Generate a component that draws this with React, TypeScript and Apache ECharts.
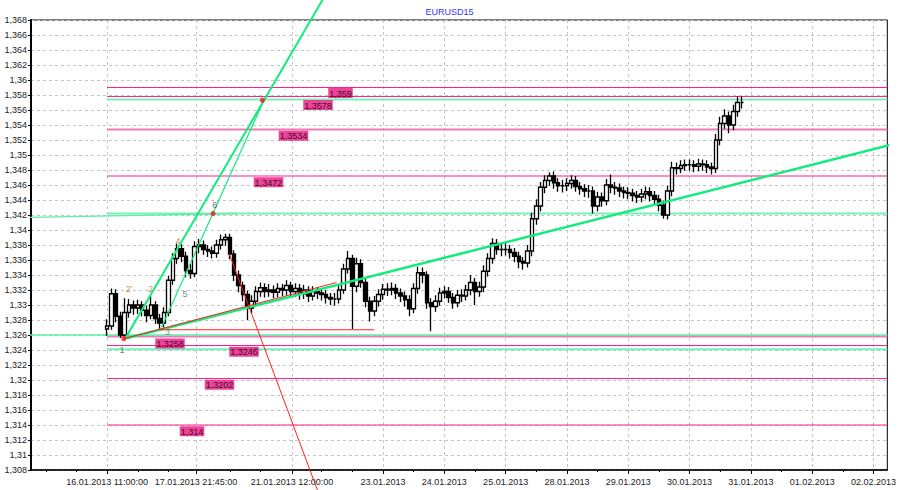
import React, { useEffect, useRef } from 'react';
import * as echarts from 'echarts';

// ---------- data (prices in pips: 1.3270 -> 13270), one candle per bar index ----------
const FIRST_OPEN = 13268;
const closes = [
  13272, 13315, 13285, 13260, 13290, 13300, 13296, 13300, 13293, 13286,
  13300, 13282, 13276, 13290, 13333, 13362, 13375, 13365, 13346, 13342,
  13378, 13380, 13374, 13372, 13369, 13380, 13387, 13390, 13368, 13340,
  13326, 13314, 13296, 13305, 13318, 13323, 13318, 13320, 13317, 13322,
  13320, 13326, 13318, 13322, 13315, 13320, 13312, 13318, 13316, 13314,
  13310, 13308, 13308, 13320, 13348, 13362, 13325, 13355, 13330, 13305,
  13292, 13305, 13314, 13321, 13320, 13322, 13316, 13312, 13307, 13295,
  13322, 13343, 13340, 13303, 13298, 13305, 13316, 13318, 13310, 13303,
  13313, 13312, 13320, 13330, 13318, 13324, 13345, 13362, 13382, 13374,
  13374, 13374, 13370, 13365, 13358, 13356, 13372, 13415, 13432, 13457,
  13466, 13472, 13463, 13459, 13459, 13462, 13466, 13458, 13455, 13452,
  13452, 13432, 13444, 13439, 13460, 13457, 13456, 13452, 13450, 13449,
  13446, 13444, 13448, 13451, 13446, 13441, 13433, 13420, 13452, 13483,
  13482, 13486, 13487, 13487, 13485, 13488, 13487, 13484, 13482, 13520,
  13542, 13552, 13540, 13558, 13570, 13570,
];
const lows = [
  13259, 13267, 13277, 13256, 13258, 13283, 13287, 13288, 13285, 13277,
  13281, 13275, 13268, 13270, 13285, 13327, 13355, 13357, 13337, 13335,
  13337, 13369, 13367, 13364, 13362, 13363, 13374, 13379, 13361, 13332,
  13317, 13305, 13280, 13289, 13299, 13311, 13310, 13311, 13309, 13310,
  13312, 13313, 13310, 13311, 13307, 13308, 13304, 13306, 13308, 13306,
  13302, 13300, 13299, 13302, 13315, 13342, 13268, 13317, 13323, 13297,
  13278, 13285, 13298, 13307, 13312, 13313, 13308, 13304, 13298, 13285,
  13289, 13315, 13329, 13295, 13265, 13291, 13299, 13309, 13303, 13295,
  13297, 13304, 13306, 13313, 13300, 13311, 13317, 13338, 13355, 13367,
  13365, 13366, 13362, 13357, 13349, 13347, 13350, 13365, 13407, 13425,
  13449, 13459, 13455, 13451, 13450, 13452, 13455, 13451, 13447, 13444,
  13443, 13422, 13425, 13431, 13433, 13449, 13447, 13444, 13442, 13441,
  13438, 13436, 13437, 13441, 13438, 13433, 13425, 13415, 13414, 13445,
  13474, 13476, 13479, 13479, 13477, 13478, 13479, 13476, 13474, 13476,
  13513, 13535, 13529, 13533, 13551, 13562,
];
const highs = [
  13281, 13322, 13321, 13291, 13309, 13308, 13306, 13307, 13305, 13299,
  13312, 13305, 13288, 13297, 13339, 13369, 13382, 13381, 13371, 13355,
  13385, 13388, 13386, 13380, 13378, 13387, 13394, 13395, 13395, 13373,
  13346, 13331, 13319, 13313, 13325, 13330, 13329, 13328, 13326, 13329,
  13328, 13333, 13331, 13329, 13328, 13327, 13325, 13325, 13324, 13322,
  13320, 13316, 13316, 13327, 13355, 13372, 13367, 13363, 13361, 13336,
  13311, 13312, 13321, 13328, 13329, 13330, 13328, 13322, 13318, 13313,
  13329, 13351, 13350, 13345, 13309, 13313, 13323, 13325, 13324, 13316,
  13320, 13321, 13327, 13340, 13336, 13331, 13353, 13369, 13389, 13388,
  13382, 13383, 13380, 13376, 13371, 13364, 13380, 13423, 13441, 13464,
  13473, 13477, 13478, 13469, 13467, 13469, 13473, 13472, 13464, 13461,
  13460, 13458, 13451, 13450, 13468, 13474, 13464, 13462, 13458, 13457,
  13455, 13452, 13455, 13458, 13457, 13452, 13447, 13439, 13459, 13491,
  13490, 13493, 13494, 13494, 13493, 13495, 13494, 13493, 13490, 13528,
  13551, 13561, 13558, 13567, 13578, 13578,
];

// y axis
const Y_MIN = 1.308;
const Y_MAX = 1.368;
const Y_STEP = 0.002;

// x axis tick labels (bar positions)
const xTickValues = [0, 20.3, 42.2, 63, 77, 91, 105, 119, 133, 147, 161, 175];
const xTickLabels = [
  '16.01.2013 11:00:00', '17.01.2013 21:45:00', '21.01.2013 12:00:00',
  '23.01.2013', '24.01.2013', '25.01.2013', '28.01.2013', '29.01.2013',
  '30.01.2013', '31.01.2013', '01.02.2013', '02.02.2013',
];
const xMinorTicks = [-14, -7, 7, 14, 28, 35, 49, 56, 70, 84, 98, 112, 126, 140, 154, 168];

// horizontal levels
const pinkLevels = [1.359, 1.3578, 1.3534, 1.3472, 1.3258, 1.3246, 1.3202, 1.314];
const pinkLabelBars = [50.6, 44.9, 39.3, 33.6, 11.1, 28, 22.4, 16.7];
const pinkLabelPrices = [1.359, 1.3574, 1.3533, 1.3471, 1.3256, 1.3245, 1.3201, 1.3139];
const greenLevels = [1.3574, 1.3422, 1.3241];
const greenRayLevels = [1.326];

// trend lines (anchor points: [bar, price])
const fanSteep = [[4.2, 1.3256], [49.2, 1.3707]];
const fanThin = [[12.4, 1.327], [35.8, 1.3573]];
const baseTrend = [[3.9, 1.3255], [178.6, 1.3513]];
const redTrend = [[3.8, 1.3255], [52.4, 1.333]];
const redSupport = [[11.7, 1.3267], [61, 1.3267]];
const redDrop = [[27.9, 1.3368], [48.1, 1.3052]];
const leftGreen = [[-24.4, 1.3416], [29.8, 1.3422]];
const anchorDots = [[3.8, 1.3255], [24.2, 1.3422], [35.45, 1.3573]];
const waveLabels: [number, number, string][] = [
  [3.4, 1.3240, '1'], [5.0, 1.3321, "2'"], [9.9, 1.3322, '2'], [13.8, 1.3264, '3'],
  [16.2, 1.3386, '4'], [17.8, 1.3315, '5'], [24.6, 1.3433, '6'],
];
const waveColors: Record<string, string> = {
  '1': '#555555', "2'": '#b8742c', '2': '#b8742c', '3': '#6a6a6a',
  '4': '#b8742c', '5': '#5a6478', '6': '#444444',
};

// ---------- layout ----------
const W = 899;
const H = 490;
const GRID_L = 31;
const GRID_R = 2;
const FIRST_BAR_PX = 108;
const PX_PER_BAR = 31 / 7;
const X_MIN = -(FIRST_BAR_PX - GRID_L) / PX_PER_BAR;
const X_MAX = (W - GRID_R - FIRST_BAR_PX) / PX_PER_BAR;
const X_PAGE_LEFT = -FIRST_BAR_PX / PX_PER_BAR;
const FONT = '"Liberation Sans", Arial, sans-serif';

const fmtPrice = (v: number) =>
  v.toFixed(4).replace(/0+$/, '').replace(/\.$/, '').replace('.', ',');

function lineSeries(data: number[][], color: string, width: number, z = 4) {
  return {
    type: 'line',
    data,
    symbol: 'none',
    silent: true,
    clip: false,
    animation: false,
    z,
    lineStyle: { color, width },
    xAxisIndex: 0,
    yAxisIndex: 0,
  };
}

export default function App() {
  const ref = useRef<HTMLDivElement>(null);

  useEffect(() => {
    if (!ref.current) return;
    const chart = echarts.init(ref.current, undefined, { renderer: 'svg' });

    const candles = closes.map((c, i) => [
      i,
      (i === 0 ? FIRST_OPEN : closes[i - 1]) / 1e4,
      c / 1e4,
      lows[i] / 1e4,
      highs[i] / 1e4,
    ]);

    const series: any[] = [];

    // level lines
    pinkLevels.forEach((lv) => {
      const soft = lv === 1.3534 || lv === 1.3258;
      series.push(lineSeries([[0, lv], [X_MAX, lv]], soft ? '#f27ab4' : '#ff1f8e', soft ? 2 : 1.2, 2));
    });
    greenLevels.forEach((lv) => {
      series.push(lineSeries([[0, lv], [X_MAX, lv]], '#74f2b8', 2, 2));
    });
    greenRayLevels.forEach((lv) => {
      series.push(lineSeries([[X_PAGE_LEFT, lv], [X_MAX, lv]], '#5ef0a8', 1.3, 2));
    });
    series.push(lineSeries(leftGreen, '#5ef0a8', 1.3, 2));

    // candles
    series.push({
      type: 'candlestick',
      data: candles,
      encode: { x: 0, y: [1, 2, 3, 4] },
      barWidth: 4,
      z: 3,
      animation: false,
      silent: true,
      itemStyle: {
        color: '#ffffff',
        color0: '#000000',
        borderColor: '#000000',
        borderColor0: '#000000',
        borderWidth: 1.3,
      },
    });

    // trend lines
    series.push(lineSeries(fanSteep, '#12ec7c', 2));
    series.push(lineSeries(fanThin, '#12ec7c', 1.2));
    series.push(lineSeries(baseTrend, '#12ec7c', 2.5));
    series.push(lineSeries(redTrend, '#ff2020', 1));
    series.push(lineSeries(redSupport, '#ff2020', 1));
    series.push(lineSeries(redDrop, '#ff2020', 1));

    // anchor dots
    series.push({
      type: 'scatter',
      data: anchorDots,
      symbolSize: 5,
      z: 5,
      silent: true,
      itemStyle: { color: '#ff1010' },
    });

    // wave labels
    series.push({
      type: 'scatter',
      data: waveLabels.map((w) => ({
        value: w,
        label: { color: waveColors[w[2]] },
      })),
      symbolSize: 1,
      z: 6,
      silent: true,
      itemStyle: { color: 'transparent' },
      label: {
        show: true,
        position: 'inside',
        formatter: (p: any) => p.value[2],
        fontFamily: FONT,
        fontSize: 9,
      },
    });

    // level price labels
    series.push({
      type: 'scatter',
      data: pinkLevels.map((lv, k) => [pinkLabelBars[k], pinkLabelPrices[k], fmtPrice(lv)]),
      symbolSize: 1,
      z: 7,
      silent: true,
      itemStyle: { color: 'transparent' },
      label: {
        show: true,
        position: [0, 1],
        align: 'left',
        verticalAlign: 'top',
        formatter: (p: any) => p.data[2],
        fontFamily: FONT,
        fontSize: 9,
        color: '#000',
        backgroundColor: '#ea147f',
        padding: [1, 1, 0, 1],
        lineHeight: 9,
      },
    });

    chart.setOption({
      animation: false,
      backgroundColor: '#ffffff',
      title: {
        text: 'EURUSD15',
        left: 'center',
        top: 2,
        textStyle: { fontFamily: FONT, fontSize: 9, fontWeight: 'normal', color: '#3333ff' },
      },
      grid: {
        left: GRID_L,
        right: GRID_R,
        top: 20,
        bottom: 20,
        show: true,
        borderColor: '#000',
        borderWidth: 1,
        containLabel: false,
      },
      xAxis: [
        {
          type: 'value',
          min: X_MIN,
          max: X_MAX,
          position: 'bottom',
          axisLine: { show: true, onZero: false, lineStyle: { color: '#000', width: 1.5 } },
          axisTick: { show: true, customValues: xTickValues, length: 4, lineStyle: { color: '#000' } },
          axisLabel: {
            show: true,
            customValues: xTickValues,
            formatter: (v: number) => {
              const k = xTickValues.findIndex((t) => Math.abs(t - v) < 1e-6);
              return k >= 0 ? xTickLabels[k] : '';
            },
            fontFamily: FONT,
            fontSize: 9,
            color: '#222',
            margin: 7,
          },
          splitLine: { show: true, lineStyle: { color: '#c4c4c4', type: [3, 3], width: 1 } },
        },
        {
          type: 'value',
          min: X_MIN,
          max: X_MAX,
          position: 'bottom',
          axisLine: { show: false },
          axisTick: { show: true, customValues: xMinorTicks, length: 2, lineStyle: { color: '#000' } },
          axisLabel: { show: false },
          splitLine: { show: false },
        },
      ],
      yAxis: {
        type: 'value',
        min: Y_MIN,
        max: Y_MAX,
        interval: Y_STEP,
        axisLine: { show: true, onZero: false, lineStyle: { color: '#000', width: 2 } },
        axisTick: { show: true, length: 3, lineStyle: { color: '#000' } },
        axisLabel: {
          formatter: (v: number) => fmtPrice(Number(v.toFixed(3))),
          fontFamily: FONT,
          fontSize: 9,
          color: '#222',
          margin: 4,
        },
        splitLine: { show: true, lineStyle: { color: '#c4c4c4', type: [3, 3], width: 1 } },
      },
      series,
    });

    return () => {
      chart.dispose();
    };
  }, []);

  return (
    <div
      ref={ref}
      style={{ position: 'absolute', left: 0, top: 0, width: W, height: H, background: '#fff' }}
    />
  );
}
